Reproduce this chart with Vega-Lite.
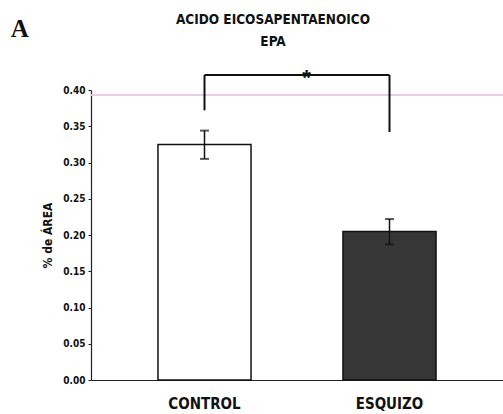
{
  "$schema": "https://vega.github.io/schema/vega-lite/v6.json",
  "background": "white",
  "padding": {"left": 10, "top": 13, "right": 0, "bottom": 0},
  "config": {"view": {"stroke": null},
    "axisY": {"labelOverlap": false, "labelFlush": false, "format": ".2f", "grid": false, "domainColor": "#222222", "domainWidth": 1.2, "tickColor": "#222222", "tickSize": 3, "labelPadding": 3, "labelFont": "DejaVu Sans Condensed, Liberation Sans", "labelFontSize": 10, "labelFontWeight": "bold", "labelColor": "#111111", "titleFont": "DejaVu Sans Condensed, Liberation Sans", "titleFontSize": 12, "titleFontWeight": "bold", "titleColor": "#111111", "titlePadding": 8}},
  "title": {"text": "A", "anchor": "start", "frame": "bounds", "font": "Liberation Serif", "fontSize": 25, "fontWeight": "bold", "color": "#111111", "dx": -31, "dy": 3, "offset": -26},
  "vconcat": [
    {
      "width": 412,
      "height": 290,
      "title": {"text": ["ACIDO EICOSAPENTAENOICO", "EPA"], "font": "DejaVu Sans Condensed, Liberation Sans", "fontSize": 13.5, "fontWeight": "bold", "lineHeight": 22, "color": "#111111", "anchor": "middle", "dx": -24, "offset": 18},
      "data": {"values": [
        {"grupo": "CONTROL", "valor": 0.325, "lo": 0.305, "hi": 0.344},
        {"grupo": "ESQUIZO", "valor": 0.205, "lo": 0.187, "hi": 0.222}
      ]},
      "encoding": {
        "x": {"field": "grupo", "type": "nominal", "sort": null,
          "scale": {"paddingInner": 0.497, "paddingOuter": 0.362},
          "axis": {"title": null, "labelAngle": 0, "ticks": false, "domainColor": "#222222", "domainWidth": 1.2, "labelFont": "DejaVu Sans Condensed, Liberation Sans", "labelFontSize": 15, "labelFontWeight": "bold", "labelColor": "#111111", "labelPadding": 16}}
      },
      "layer": [
        {
          "mark": {"type": "bar", "stroke": "#111111", "strokeWidth": 1.5},
          "encoding": {
            "y": {"field": "valor", "type": "quantitative",
              "scale": {"domain": [0, 0.4], "nice": false},
              "axis": {"title": "% de ÁREA", "values": [0, 0.05, 0.1, 0.15, 0.2, 0.25, 0.3, 0.35, 0.4]}},
            "fill": {"field": "grupo", "type": "nominal", "scale": {"range": ["#ffffff", "#363636"]}, "legend": null}
          }
        },
        {
          "mark": {"type": "rule", "color": "#e8c6e8", "strokeWidth": 1.5},
          "encoding": {"y": {"datum": 0.393, "type": "quantitative", "axis": {"title": "% de ÁREA", "values": [0, 0.05, 0.1, 0.15, 0.2, 0.25, 0.3, 0.35, 0.4]}}, "x": null}
        },
        {
          "mark": {"type": "rule", "color": "#111111", "strokeWidth": 1.5},
          "encoding": {"y": {"field": "lo", "type": "quantitative", "axis": {"title": "% de ÁREA", "values": [0, 0.05, 0.1, 0.15, 0.2, 0.25, 0.3, 0.35, 0.4]}}, "y2": {"field": "hi"}}
        },
        {
          "mark": {"type": "tick", "color": "#111111", "size": 9, "thickness": 2, "orient": "horizontal"},
          "encoding": {"y": {"field": "hi", "type": "quantitative", "axis": {"title": "% de ÁREA", "values": [0, 0.05, 0.1, 0.15, 0.2, 0.25, 0.3, 0.35, 0.4]}}}
        },
        {
          "mark": {"type": "tick", "color": "#111111", "size": 9, "thickness": 2, "orient": "horizontal"},
          "encoding": {"y": {"field": "lo", "type": "quantitative", "axis": {"title": "% de ÁREA", "values": [0, 0.05, 0.1, 0.15, 0.2, 0.25, 0.3, 0.35, 0.4]}}}
        },
        {
          "data": {"values": [
            {"grupo": "CONTROL", "desde": 0.372, "hasta": 0.4207},
            {"grupo": "ESQUIZO", "desde": 0.342, "hasta": 0.4207}
          ]},
          "mark": {"type": "rule", "color": "#111111", "strokeWidth": 2},
          "encoding": {"y": {"field": "desde", "type": "quantitative", "axis": {"title": "% de ÁREA", "values": [0, 0.05, 0.1, 0.15, 0.2, 0.25, 0.3, 0.35, 0.4]}}, "y2": {"field": "hasta"}}
        },
        {
          "data": {"values": [{"desde": "CONTROL", "hasta": "ESQUIZO", "nivel": 0.4207}]},
          "mark": {"type": "rule", "color": "#111111", "strokeWidth": 2},
          "encoding": {"x": {"field": "desde", "type": "nominal"}, "x2": {"field": "hasta"}, "y": {"field": "nivel", "type": "quantitative", "axis": {"title": "% de ÁREA", "values": [0, 0.05, 0.1, 0.15, 0.2, 0.25, 0.3, 0.35, 0.4]}}}
        },
        {
          "data": {"values": [{"grupo": "CONTROL", "nivel": 0.4207, "marca": "*"}]},
          "mark": {"type": "text", "color": "#111111", "fontSize": 22, "fontWeight": "bold", "font": "Liberation Sans", "dx": 102, "dy": 3},
          "encoding": {"y": {"field": "nivel", "type": "quantitative", "axis": {"title": "% de ÁREA", "values": [0, 0.05, 0.1, 0.15, 0.2, 0.25, 0.3, 0.35, 0.4]}}, "text": {"field": "marca"}}
        }
      ]
    }
  ]
}
